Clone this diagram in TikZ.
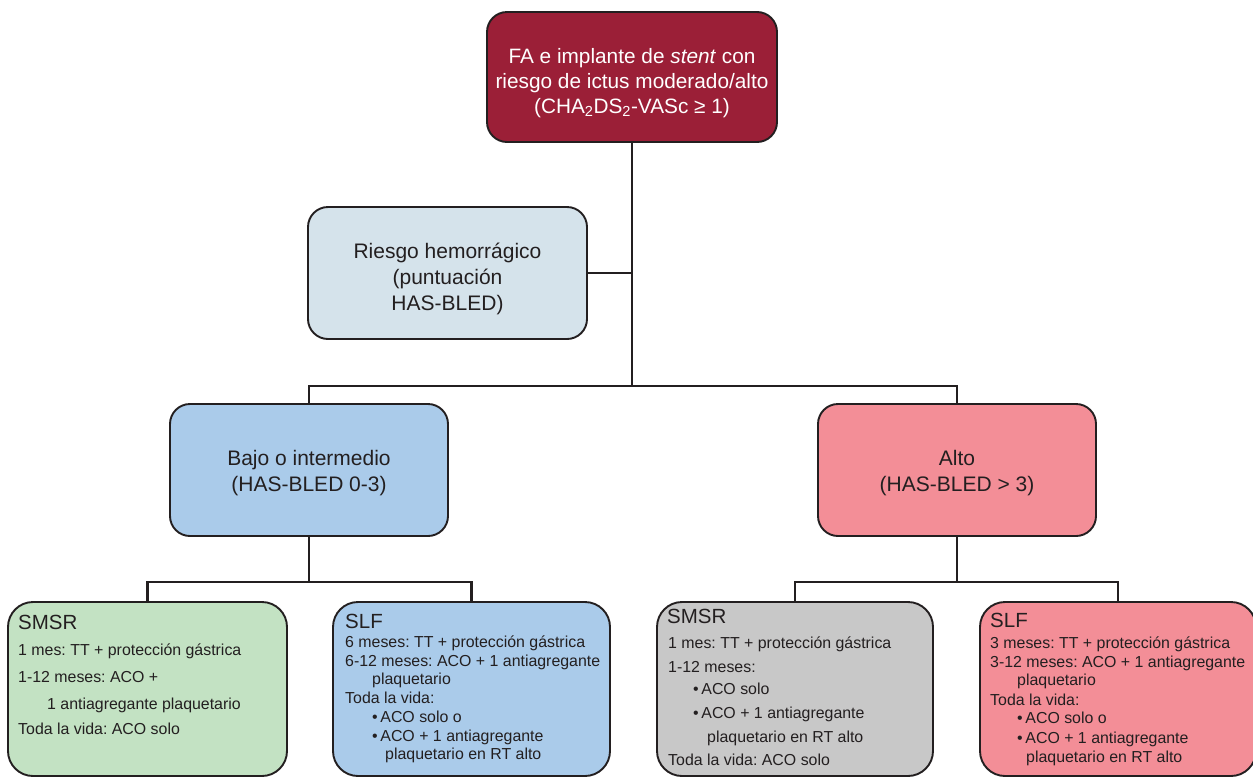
\documentclass[tikz,border=0pt]{standalone}
\usepackage{fontspec}
\setmainfont{Liberation Sans}
\frenchspacing
\definecolor{txt}{HTML}{231F20}
\definecolor{topred}{HTML}{9B1F37}
\definecolor{riskc}{HTML}{D5E3EB}
\definecolor{bluec}{HTML}{AACBEA}
\definecolor{pinkc}{HTML}{F38E97}
\definecolor{greenc}{HTML}{C3E2C3}
\definecolor{grayc}{HTML}{C8C8C8}
\begin{document}
\begin{tikzpicture}[x=1pt,y=-1pt,
  box/.style={draw=txt, line width=1.9pt, rounded corners=20pt, inner sep=0pt},
  btext/.style={align=center, text=txt, inner sep=0pt, font=\fontsize{21}{26}\selectfont},
  conn/.style={draw=txt, line width=2.8pt},
  hd/.style={anchor=base west, text=txt, font=\fontsize{20.5}{24}\selectfont, inner sep=0pt},
  ln/.style={anchor=base west, text=txt, font=\fontsize{15.9}{18}\selectfont, inner sep=0pt}]
\useasboundingbox (0,0) rectangle (1253,777);

\node[box, fill=topred, minimum width=290pt, minimum height=130pt] (top) at (632,77) {};
\node[btext, text=white, font=\fontsize{20.8}{25}\selectfont] (topt) at (632,83)
  {FA e implante de \textit{stent} con\\riesgo de ictus moderado/alto\\(CHA\textsubscript{2}DS\textsubscript{2}-VASc ≥ 1)};
\node[box, fill=riskc, minimum width=279pt, minimum height=132pt] (risk) at (447.5,273) {};
\node[btext] (riskt) at (447.5,279) {Riesgo hemorrágico\\(puntuación\\HAS-BLED)};
\node[box, fill=bluec, minimum width=278pt, minimum height=132pt] (bajo) at (309,470) {};
\node[btext] (bajot) at (309,473) {Bajo o intermedio\\(HAS-BLED 0-3)};
\node[box, fill=pinkc, minimum width=278pt, minimum height=132pt] (alto) at (957,470) {};
\node[btext] (altot) at (957,473) {Alto\\(HAS-BLED > 3)};

\node[box, rounded corners=25pt, fill=greenc, minimum width=279pt, minimum height=174pt] (smsr1) at (147.5,689) {};
\node[box, rounded corners=25pt, fill=bluec, minimum width=277pt, minimum height=174pt] (slf1) at (471.5,689) {};
\node[box, rounded corners=25pt, fill=grayc, minimum width=276pt, minimum height=174pt] (smsr2) at (795,689) {};
\node[box, rounded corners=25pt, fill=pinkc, minimum width=276pt, minimum height=174pt] (slf2) at (1118,689) {};

% connectors
\coordinate (j1) at (top.south |- 0,386);
\draw[conn] (top.south) -- (j1);
\draw[conn] (risk.east) -- (risk.east -| top.south);
\draw[conn] (bajo.north) |- (j1) -| (alto.north);
\coordinate (j2) at (bajo.south |- 0,582);
\coordinate (j3) at (alto.south |- 0,582);
\draw[conn] (bajo.south) -- (j2);
\draw[conn] (smsr1.north) |- (j2) -| (slf1.north);
\draw[conn] (alto.south) -- (j3);
\draw[conn] (smsr2.north) |- (j3) -| (slf2.north);

% green SMSR
\node[hd] (g0) at (18,629) {SMSR};
\node[ln] (g1) at (18,655) {1 mes: TT + protección gástrica};
\node[ln] (g2) at (18,682) {1-12 meses: ACO +};
\node[ln] (g3) at (47,709) {1 antiagregante plaquetario};
\node[ln] (g4) at (18,734) {Toda la vida: ACO solo};

% blue SLF
\node[hd] (b0) at (345,628) {SLF};
\node[ln] (b1) at (345,647) {6 meses: TT + protección gástrica};
\node[ln] (b2) at (345,666) {6-12 meses: ACO + 1 antiagregante};
\node[ln] (b3) at (372,684) {plaquetario};
\node[ln] (b4) at (345,703) {Toda la vida:};
\node[ln] (b5) at (372,722) {•\,ACO solo o};
\node[ln] (b6) at (372,741) {•\,ACO + 1 antiagregante};
\node[ln] (b7) at (385,759) {plaquetario en RT alto};

% gray SMSR
\node[hd] (s0) at (667,623) {SMSR};
\node[ln] (s1) at (668,648) {1 mes: TT + protección gástrica};
\node[ln] (s2) at (668,672) {1-12 meses:};
\node[ln] (s3) at (693,694) {•\,ACO solo};
\node[ln] (s4) at (693,718) {•\,ACO + 1 antiagregante};
\node[ln] (s5) at (707,742) {plaquetario en RT alto};
\node[ln] (s6) at (668,765) {Toda la vida: ACO solo};

% red SLF
\node[hd] (r0) at (990,627) {SLF};
\node[ln] (r1) at (990,648) {3 meses: TT + protección gástrica};
\node[ln] (r2) at (990,667) {3-12 meses: ACO + 1 antiagregante};
\node[ln] (r3) at (1017,685) {plaquetario};
\node[ln] (r4) at (990,705) {Toda la vida:};
\node[ln] (r5) at (1017,723) {•\,ACO solo o};
\node[ln] (r6) at (1017,743) {•\,ACO + 1 antiagregante};
\node[ln] (r7) at (1026,762) {plaquetario en RT alto};
\end{tikzpicture}
\end{document}
